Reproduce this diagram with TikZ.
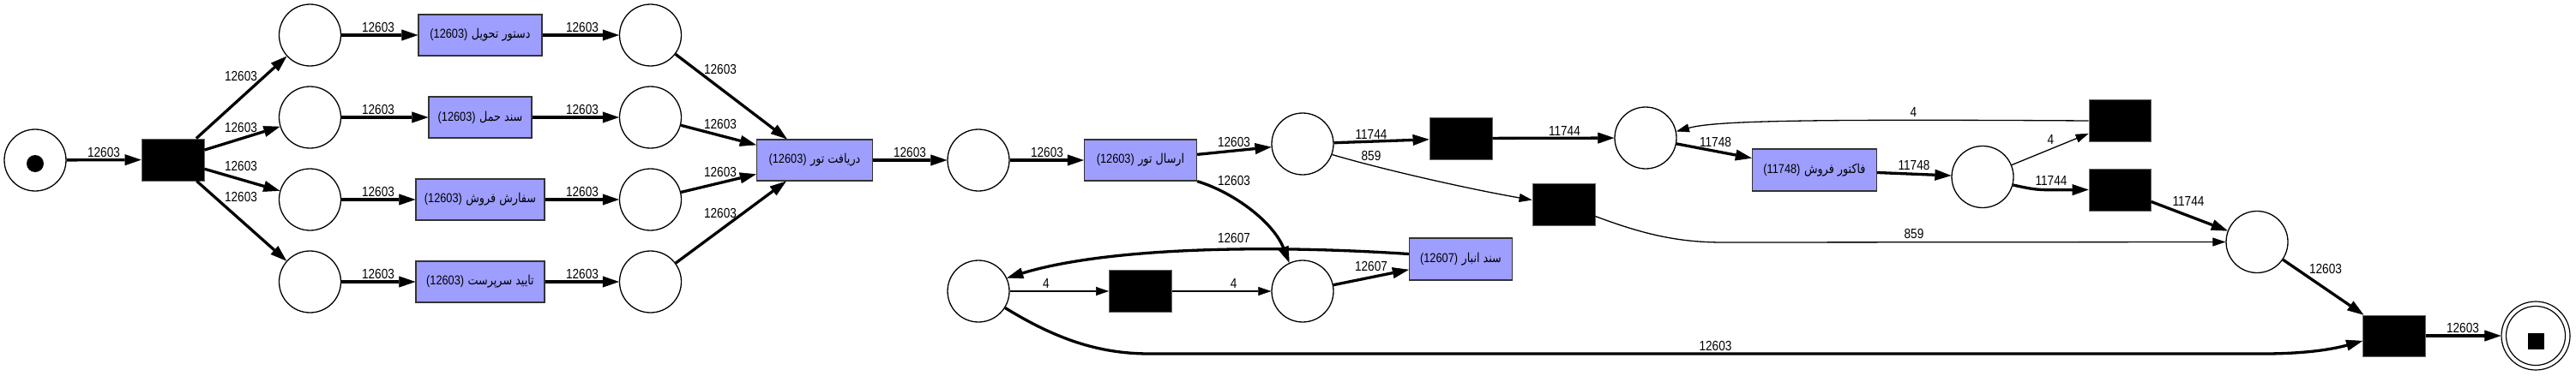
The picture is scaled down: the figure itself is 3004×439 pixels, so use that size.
\documentclass[tikz,border=0pt]{standalone}
\usepackage{fontspec}
\usetikzlibrary{arrows.meta}
\TeXXeTstate=1
\newfontfamily\lblfont{Liberation Sans}[FakeStretch=0.85]
\newfontfamily\arabicfont[Script=Arabic,FakeStretch=0.85]{DejaVu Sans}
\definecolor{boxfill}{RGB}{158,158,255}
\newcommand{\boxtext}[2]{{\lblfont(#2)}\ {\arabicfont\beginR #1\endR}}
\begin{document}
\begin{tikzpicture}[x=1pt,y=-1pt,
  place/.style={circle,draw=black,line width=1.3pt,fill=white,minimum size=72pt,inner sep=0pt},
  tblack/.style={rectangle,fill=black,draw=black!60,line width=0.8pt,minimum width=73pt,minimum height=49pt,inner sep=0pt},
  tbox/.style={rectangle,fill=boxfill,draw=black!80,line width=1.3pt,minimum height=48pt,inner sep=0pt,font=\fontsize{15}{18}\selectfont},
  lbl/.style={font=\lblfont\fontsize{16}{18}\selectfont,inner sep=0pt},
  thk/.style={line width=3.3pt,-{Triangle[length=19pt,width=13pt,line width=0.5pt]}},
  thn/.style={line width=1.3pt,-{Triangle[length=15pt,width=10pt,line width=0.5pt]}},
]
\useasboundingbox (0,0) rectangle (3004,439);
% places
\node[place] (ps) at (41,187) {};
\node[circle,fill=black,minimum size=20pt,inner sep=0pt] (tok) at (41,191) {};
\node[tblack] (t0) at (201.5,186.5) {};
\node[place] (pa1) at (361.5,41) {};
\node[place] (pa2) at (361.5,137) {};
\node[place] (pa3) at (361.5,233) {};
\node[place] (pa4) at (361.5,329) {};
\node[tbox,minimum width=144pt] (b1) at (560,41) {\boxtext{دستور تحویل}{12603}};
\node[tbox,minimum width=120pt] (b2) at (560,137) {\boxtext{سند حمل}{12603}};
\node[tbox,minimum width=150pt] (b3) at (560,233) {\boxtext{سفارش فروش}{12603}};
\node[tbox,minimum width=150pt] (b4) at (560,329) {\boxtext{تایید سرپرست}{12603}};
\node[place] (pb1) at (758.5,41) {};
\node[place] (pb2) at (758.5,137) {};
\node[place] (pb3) at (758.5,233) {};
\node[place] (pb4) at (758.5,329) {};
\node[tbox,minimum width=135pt] (bd) at (950,187) {\boxtext{دریافت تور}{12603}};
\node[place] (p5) at (1141,187) {};
\node[tbox,minimum width=131pt] (be) at (1330,187) {\boxtext{ارسال تور}{12603}};
\node[place] (p6) at (1519,168) {};
\node[tblack] (t1) at (1703.5,161.5) {};
\node[tblack] (t2) at (1823.5,238.5) {};
\node[place] (p8) at (1919,161) {};
\node[tbox,minimum width=145pt,minimum height=49pt] (bf) at (2116,198.5) {\boxtext{فاکتور فروش}{11748}};
\node[place] (p9) at (2312,206.5) {};
\node[tblack,minimum width=72pt] (t3) at (2472,141) {};
\node[tblack,minimum width=72pt] (t4) at (2472,221.5) {};
\node[place] (p10) at (2632,282.5) {};
\node[tblack,minimum height=48pt] (tf) at (2792,392) {};
\node[circle,draw=black,line width=1.2pt,fill=white,minimum size=80pt,inner sep=0pt] (pe) at (2957,392) {};
\node[circle,draw=black,line width=1.2pt,minimum size=69pt,inner sep=0pt] (pei) at (2957,392) {};
\node[rectangle,fill=black,minimum size=19pt,inner sep=0pt] (pes) at (2957,398.5) {};
\node[place] (p7) at (1519,340) {};
\node[tbox,minimum width=120pt,minimum height=49pt] (ba) at (1703.5,302.5) {\boxtext{سند انبار}{12607}};
\node[place] (p11) at (1141,340) {};
\node[tblack] (ts) at (1330,340) {};
% arcs
\draw[thk] (ps) -- (t0) node[lbl] at (121,177.5) {12603};
\draw[thk] (t0) -- (pa1) node[lbl] at (281,89) {12603};
\draw[thk] (t0) -- (pa2) node[lbl] at (281,149) {12603};
\draw[thk] (t0) -- (pa3) node[lbl] at (281,194) {12603};
\draw[thk] (t0) -- (pa4) node[lbl] at (281,230) {12603};
\draw[thk] (pa1) -- (b1) node[lbl] at (441,32) {12603};
\draw[thk] (pa2) -- (b2) node[lbl] at (441,128) {12603};
\draw[thk] (pa3) -- (b3) node[lbl] at (441,224) {12603};
\draw[thk] (pa4) -- (b4) node[lbl] at (441,320) {12603};
\draw[thk] (b1) -- (pb1) node[lbl] at (679,32) {12603};
\draw[thk] (b2) -- (pb2) node[lbl] at (679,128) {12603};
\draw[thk] (b3) -- (pb3) node[lbl] at (679,224) {12603};
\draw[thk] (b4) -- (pb4) node[lbl] at (679,320) {12603};
\draw[thk] (pb1) -- (bd) node[lbl] at (840,80.7) {12603};
\draw[thk] (pb2) -- (bd) node[lbl] at (840,144.7) {12603};
\draw[thk] (pb3) -- (bd) node[lbl] at (840,201) {12603};
\draw[thk] (pb4) -- (bd) node[lbl] at (840,248.7) {12603};
\draw[thk] (bd) -- (p5) node[lbl] at (1061,177.7) {12603};
\draw[thk] (p5) -- (be) node[lbl] at (1221,177.7) {12603};
\draw[thk] (be) -- (p6) node[lbl] at (1439,165.7) {12603};
\draw[thk] (be.south east) .. controls (1440,225) and (1485,260) .. (p7.115) node[lbl] at (1439,210.7) {12603};
\draw[thk] (p6) -- (t1) node[lbl] at (1599,156.7) {11744};
\draw[thn] (p6.-20) .. controls (1620,200) and (1720,222) .. ([yshift=5pt]t2.west) node[lbl] at (1599,181.7) {859};
\draw[thk] (t1) -- (p8) node[lbl] at (1824.4,153) {11744};
\draw[thk] (p8) -- (bf) node[lbl] at (2000.5,165.7) {11748};
\draw[thk] (bf) -- (p9) node[lbl] at (2232,193.3) {11748};
\draw[thn] (p9) -- (t3) node[lbl] at (2391.3,162.7) {4};
\draw[thk] (p9.-15) .. controls (2375,222) .. (t4.west) node[lbl] at (2392,210.7) {11744};
\draw[thn] (t3.west) .. controls (2100,139) and (2000,141) .. (p8.12) node[lbl] at (2231.3,130.7) {4};
\draw[thk] (t4) -- (p10) node[lbl] at (2552,234.7) {11744};
\draw[thn] ([yshift=-14pt]t2.east) .. controls (1920,275) and (1960,283) .. (2010,283) -- (p10.west) node[lbl] at (2232,273.3) {859};
\draw[thk] (p10) -- (tf) node[lbl] at (2712,314.3) {12603};
\draw[thk] (tf) -- (pe) node[lbl] at (2872,382.7) {12603};
\draw[thk] (p7) -- (ba) node[lbl] at (1599,310.7) {12607};
\draw[thk] ([yshift=6pt]ba.west) .. controls (1450,284) and (1280,292) .. (p11.25) node[lbl] at (1439,278.3) {12607};
\draw[thn] (p11) -- (ts) node[lbl] at (1220,330.7) {4};
\draw[thn] (ts) -- (p7) node[lbl] at (1438.6,330.7) {4};
\draw[thk] (p11.-32) .. controls (1230,395) and (1280,413) .. (1340,413) -- (2640,413) .. controls (2700,413) and (2730,405) .. ([yshift=-6pt]tf.west) node[lbl] at (2000.5,404.3) {12603};
\end{tikzpicture}
\end{document}
